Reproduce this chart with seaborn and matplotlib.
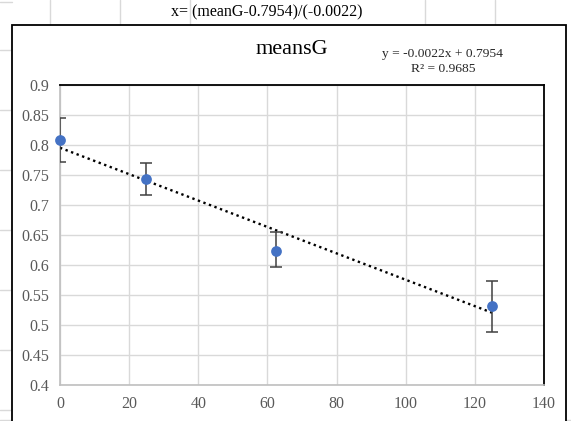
import numpy as np
import pandas as pd
import matplotlib
matplotlib.use('Agg')
import matplotlib.pyplot as plt
import seaborn as sns
from matplotlib.lines import Line2D
from matplotlib.patches import Rectangle

# data
conc = [0, 25, 62.5, 125]
mean_g = [0.808, 0.743, 0.623, 0.531]
err_up = [0.037, 0.027, 0.032, 0.043]
err_down = [0.036, 0.026, 0.026, 0.043]

slope = -0.0022
intercept = 0.7954

df = pd.DataFrame({'x': conc, 'meansG': mean_g})

sns.set_style('white')
plt.rcParams['font.family'] = ['Liberation Serif', 'DejaVu Serif']

fig = plt.figure(figsize=(5.71, 4.21), dpi=100)

# spreadsheet cells behind the chart
for xp in [50, 120, 190, 425, 495]:
    fig.add_artist(Line2D([xp / 571, xp / 571], [1, 1 - 25 / 421], color='#d9d9d9', lw=1, zorder=-3))
for yp in [2, 50, 110, 170, 230, 290, 350, 410]:
    fig.add_artist(Line2D([0, 12 / 571], [1 - yp / 421, 1 - yp / 421], color='#d9d9d9', lw=1, zorder=-3))
fig.add_artist(Line2D([0, 1], [1 - 420 / 421, 1 - 420 / 421], color='#d9d9d9', lw=1, zorder=-3))
fig.add_artist(Rectangle((12 / 571, -0.05), (566 - 12) / 571, 1.05 - 25 / 421,
                         facecolor='white', edgecolor='black', lw=1.3, zorder=-2))
fig.text(267 / 571, 1 - 12 / 421, 'x= (meanG-0.7954)/(-0.0022)', ha='center', va='center',
         fontsize=11.5, color='black')

ax = fig.add_axes([60 / 571, 1 - 385 / 421, (544 - 60) / 571, (385 - 85) / 421])
ax.patch.set_alpha(0)

# trend line
xt = np.array([conc[0], conc[-1]])
ax.plot(xt, slope * xt + intercept, color='black', ls=(0, (1, 1.5)), lw=1.7, zorder=3)

ax.errorbar(conc, mean_g, yerr=[err_down, err_up], fmt='none', ecolor='#404040',
            elinewidth=1.1, capsize=4, capthick=1.1, zorder=3)
sns.scatterplot(data=df, x='x', y='meansG', ax=ax, color='#4472C4', s=60,
                edgecolor='#4472C4', linewidth=0, zorder=4, legend=False, clip_on=False)

ax.set_xlim(0, 140)
ax.set_ylim(0.4, 0.9)
ax.set_xticks(np.arange(0, 141, 20))
ax.set_yticks(np.arange(0.4, 0.901, 0.05))
ax.set_yticklabels(['0.4', '0.45', '0.5', '0.55', '0.6', '0.65', '0.7', '0.75', '0.8', '0.85', '0.9'])
ax.grid(True, color='#d9d9d9', lw=1)
ax.set_axisbelow(True)
ax.set_xlabel('')
ax.set_ylabel('')
ax.tick_params(axis='both', labelsize=11.5, colors='#595959', length=0, pad=8)
for s in ['top', 'right']:
    ax.spines[s].set_color('black')
    ax.spines[s].set_linewidth(1.3)
for s in ['left', 'bottom']:
    ax.spines[s].set_color('#bfbfbf')
    ax.spines[s].set_linewidth(1.2)

fig.text(292 / 571, 1 - 49 / 421, 'meansG', ha='center', va='center', fontsize=16, color='black')
fig.text(443 / 571, 1 - 54 / 421, 'y = -0.0022x + 0.7954', ha='center', va='center', fontsize=9.7)
fig.text(443 / 571, 1 - 69 / 421, 'R² = 0.9685', ha='center', va='center', fontsize=9.7)

fig.savefig('out.png', dpi=100)
